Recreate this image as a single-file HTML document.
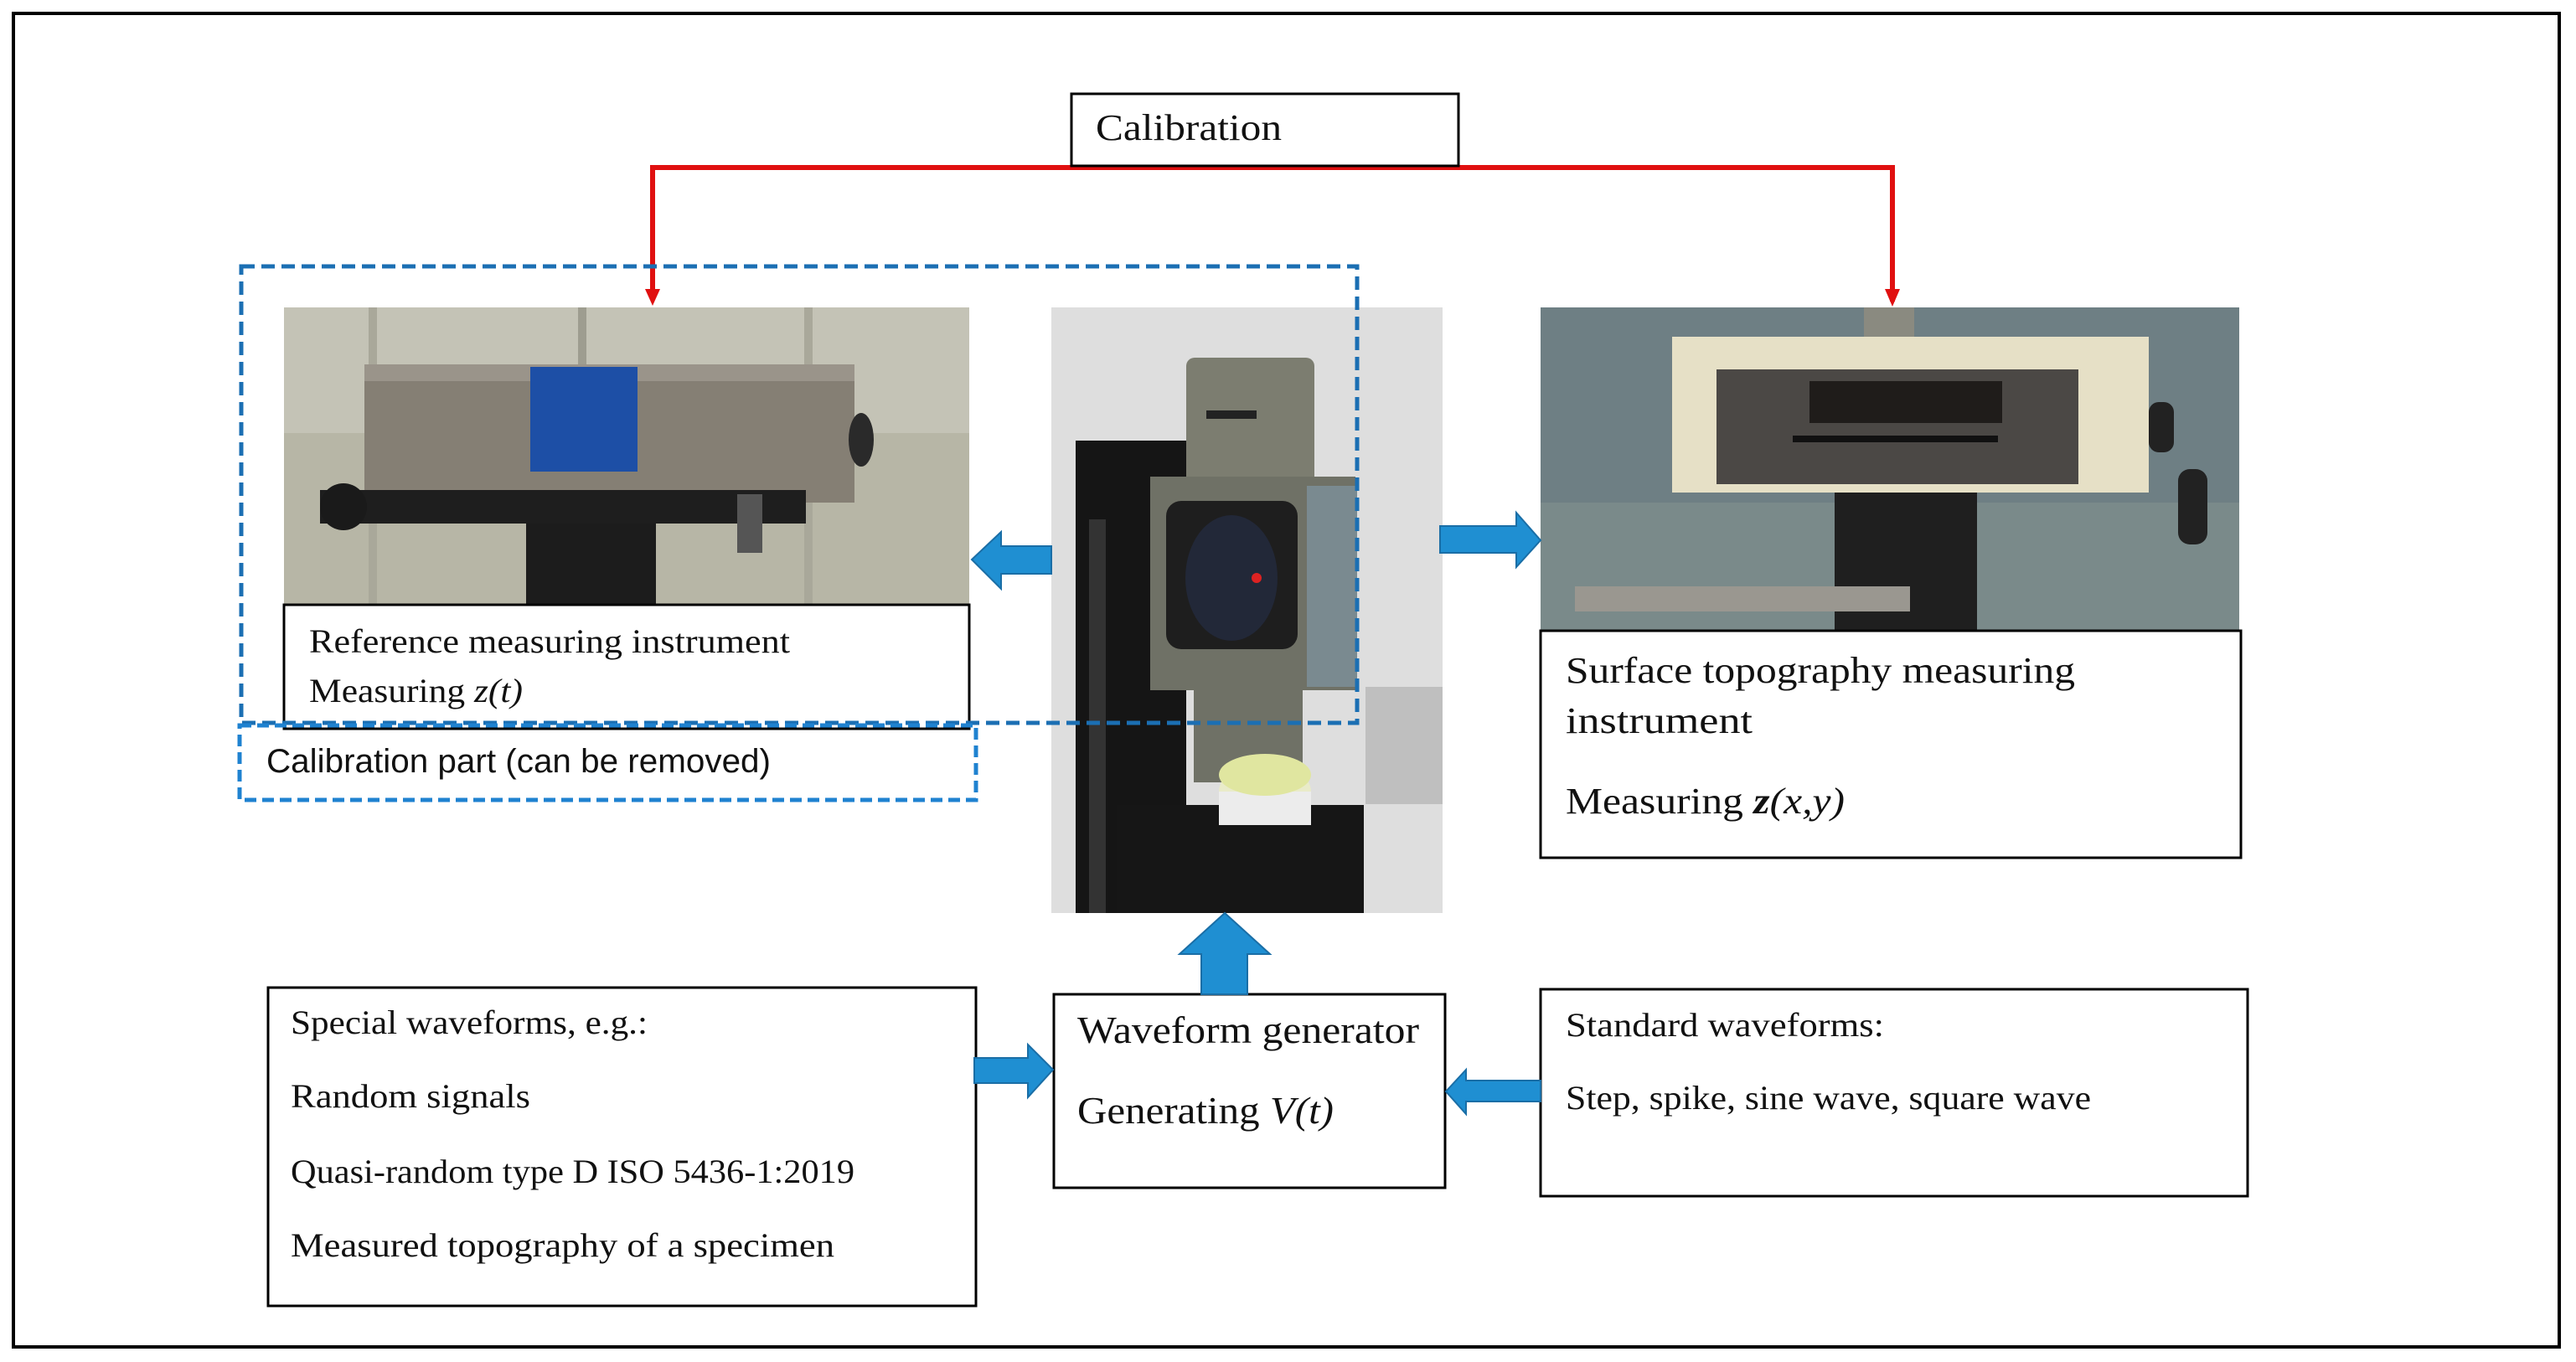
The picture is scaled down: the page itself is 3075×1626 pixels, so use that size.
<!DOCTYPE html>
<html><head><meta charset="utf-8"><style>
html,body{margin:0;padding:0;background:#fff}
svg{display:block}
text{font-family:"Liberation Serif",serif;fill:#111}
.s{font-family:"Liberation Sans Narrow","Liberation Sans",sans-serif}
</style></head><body>
<svg width="3075" height="1626" viewBox="0 0 3075 1626" xmlns="http://www.w3.org/2000/svg">
<rect x="16" y="16" width="3039" height="1592" fill="#fff" stroke="#000" stroke-width="4"/>

<!-- Left photo -->
<rect x="339" y="367" width="818" height="355" fill="#b7b6a6"/>
<rect x="339" y="367" width="818" height="150" fill="#c4c3b6"/>
<rect x="440" y="367" width="10" height="355" fill="#a9a89a"/>
<rect x="690" y="367" width="10" height="200" fill="#9e9d90"/>
<rect x="960" y="367" width="10" height="355" fill="#a9a89a"/>
<rect x="435" y="435" width="585" height="165" fill="#857f74"/>
<rect x="435" y="435" width="585" height="20" fill="#9a948a"/>
<rect x="633" y="438" width="128" height="125" fill="#1d4fa6"/>
<ellipse cx="1028" cy="525" rx="15" ry="32" fill="#2a2a2a"/>
<rect x="382" y="585" width="580" height="40" fill="#1e1e1e"/>
<circle cx="410" cy="605" r="28" fill="#1a1a1a"/>
<rect x="628" y="625" width="155" height="97" fill="#1c1c1c"/>
<rect x="880" y="590" width="30" height="70" fill="#555"/>

<!-- Center photo -->
<rect x="1255" y="367" width="467" height="723" fill="#dedede"/>
<rect x="1630" y="820" width="92" height="140" fill="#bfbfbf"/>
<rect x="1284" y="526" width="132" height="564" fill="#151515"/>
<rect x="1300" y="620" width="20" height="470" fill="#333"/>
<rect x="1416" y="427" width="153" height="165" rx="10" fill="#7c7d70"/>
<rect x="1440" y="490" width="60" height="10" fill="#222"/>
<rect x="1373" y="569" width="245" height="255" fill="#6f7166"/>
<rect x="1560" y="580" width="60" height="240" fill="#7a8a90"/>
<rect x="1392" y="598" width="157" height="177" rx="18" fill="#1e1e1e"/>
<ellipse cx="1470" cy="690" rx="55" ry="75" fill="#222838"/>
<circle cx="1500" cy="690" r="6" fill="#d22"/>
<rect x="1425" y="824" width="130" height="110" fill="#6f7166"/>
<rect x="1333" y="961" width="295" height="129" fill="#161616"/>
<ellipse cx="1510" cy="945" rx="55" ry="35" fill="#e9ebc9"/>
<rect x="1455" y="945" width="110" height="40" fill="#ececec"/>
<ellipse cx="1510" cy="925" rx="55" ry="25" fill="#e0e6a0"/>

<!-- Right photo -->
<rect x="1839" y="367" width="834" height="386" fill="#6e7f84"/>
<rect x="1839" y="600" width="834" height="153" fill="#7a8a8a"/>
<rect x="2225" y="367" width="60" height="40" fill="#8a8a80"/>
<rect x="1996" y="402" width="569" height="186" fill="#e6e0c6"/>
<rect x="2049" y="441" width="432" height="137" fill="#4b4845"/>
<rect x="2160" y="455" width="230" height="50" fill="#1f1c1a"/>
<rect x="2140" y="520" width="245" height="8" fill="#111"/>
<rect x="2565" y="480" width="30" height="60" rx="12" fill="#222"/>
<rect x="2600" y="560" width="35" height="90" rx="14" fill="#222"/>
<rect x="2190" y="588" width="170" height="165" fill="#1f1f1f"/>
<rect x="1880" y="700" width="400" height="30" fill="#9a9790"/>

<!-- Red calibration connector -->
<polyline points="779,350 779,200 2259,200 2259,360" fill="none" stroke="#e01010" stroke-width="6"/>
<polygon points="770,345 788,345 779,365" fill="#e01010"/>
<polygon points="2250,345 2268,345 2259,366" fill="#e01010"/>

<!-- Calibration box -->
<rect x="1279" y="112" width="462" height="86" fill="#fff" stroke="#000" stroke-width="3"/>
<text x="1308" y="167" font-size="44" textLength="222" lengthAdjust="spacingAndGlyphs">Calibration</text>

<!-- Left text box -->
<rect x="339" y="722" width="818" height="148" fill="#fff" stroke="#000" stroke-width="3"/>
<text x="369" y="779" font-size="40" textLength="574" lengthAdjust="spacingAndGlyphs">Reference measuring instrument</text>
<text x="369" y="838" font-size="40" textLength="255" lengthAdjust="spacingAndGlyphs">Measuring <tspan font-style="italic">z(t)</tspan></text>

<!-- Dashed boxes -->
<rect x="288" y="318" width="1332" height="545" fill="none" stroke="#1b6fb3" stroke-width="5" stroke-dasharray="16,8"/>
<rect x="286" y="866" width="879" height="89" fill="none" stroke="#1f82d0" stroke-width="5" stroke-dasharray="14,7"/>
<text class="s" x="318" y="922" font-size="40" textLength="602" lengthAdjust="spacingAndGlyphs">Calibration part (can be removed)</text>

<!-- Right text box -->
<rect x="1839" y="753" width="836" height="271" fill="#fff" stroke="#000" stroke-width="3"/>
<text x="1869" y="815" font-size="44" textLength="608" lengthAdjust="spacingAndGlyphs">Surface topography measuring</text>
<text x="1869" y="875" font-size="44" textLength="223" lengthAdjust="spacingAndGlyphs">instrument</text>
<text x="1869" y="971" font-size="44" textLength="333" lengthAdjust="spacingAndGlyphs">Measuring <tspan font-weight="bold" font-style="italic">z</tspan><tspan font-style="italic">(x,y)</tspan></text>

<!-- Bottom boxes -->
<rect x="320" y="1179" width="845" height="380" fill="#fff" stroke="#000" stroke-width="3"/>
<text x="347" y="1234" font-size="40" textLength="426" lengthAdjust="spacingAndGlyphs">Special waveforms, e.g.:</text>
<text x="347" y="1322" font-size="40" textLength="286" lengthAdjust="spacingAndGlyphs">Random signals</text>
<text x="347" y="1412" font-size="40" textLength="673" lengthAdjust="spacingAndGlyphs">Quasi-random type D ISO 5436-1:2019</text>
<text x="347" y="1500" font-size="40" textLength="649" lengthAdjust="spacingAndGlyphs">Measured topography of a specimen</text>

<rect x="1258" y="1187" width="467" height="231" fill="#fff" stroke="#000" stroke-width="3"/>
<text x="1286" y="1245" font-size="45" textLength="408" lengthAdjust="spacingAndGlyphs">Waveform generator</text>
<text x="1286" y="1341" font-size="45" textLength="306" lengthAdjust="spacingAndGlyphs">Generating <tspan font-style="italic">V(t)</tspan></text>

<rect x="1839" y="1181" width="844" height="247" fill="#fff" stroke="#000" stroke-width="3"/>
<text x="1869" y="1237" font-size="40" textLength="380" lengthAdjust="spacingAndGlyphs">Standard waveforms:</text>
<text x="1869" y="1324" font-size="40" textLength="627" lengthAdjust="spacingAndGlyphs">Step, spike, sine wave, square wave</text>

<!-- Blue block arrows -->
<g fill="#1f8fd2" stroke="#1a6ea6" stroke-width="2">
<polygon points="1255,652 1195,652 1195,635 1160,668 1195,703 1195,685 1255,685"/>
<polygon points="1719,628 1810,628 1810,612 1839,645 1810,677 1810,660 1719,660"/>
<polygon points="1434,1187 1434,1139 1408,1139 1462,1090 1516,1139 1489,1139 1489,1187"/>
<polygon points="1163,1263 1227,1263 1227,1247 1257,1277 1227,1310 1227,1293 1163,1293"/>
<polygon points="1839,1290 1750,1290 1750,1277 1726,1303 1750,1330 1750,1315 1839,1315"/>
</g>
</svg>
</body></html>
